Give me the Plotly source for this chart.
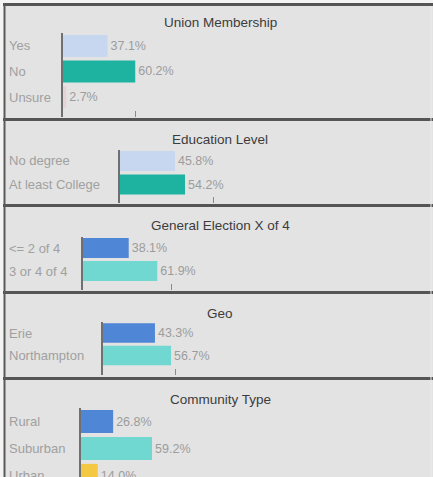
import plotly.graph_objects as go

# ---- data ----
union_cats = ["Yes", "No", "Unsure"]
union_vals = [37.1, 60.2, 2.7]
union_colors = ["#c7d7f0", "#1db3a0", "#e6d3d8"]

edu_cats = ["No degree", "At least College"]
edu_vals = [45.8, 54.2]
edu_colors = ["#c7d7f0", "#1db3a0"]

ge_cats = ["<= 2 of 4", "3 or 4 of 4"]
ge_vals = [38.1, 61.9]
ge_colors = ["#4f86d6", "#70d8d0"]

geo_cats = ["Erie", "Northampton"]
geo_vals = [43.3, 56.7]
geo_colors = ["#4f86d6", "#70d8d0"]

comm_cats = ["Rural", "Suburban", "Urban"]
comm_vals = [26.8, 59.2, 14.0]
comm_colors = ["#4f86d6", "#70d8d0", "#f5c843"]

titles = ["Union Membership", "Education Level", "General Election X of 4", "Geo", "Community Type"]

W, H = 433, 477
def px(p):
    return p / W
def py(p):
    return 1 - p / H

# layout config per panel: axis x px, top px, bottom px, first-row center px, row spacing px, title y px, tick value
panels = [
    (union_cats, union_vals, union_colors, 63, 33, 117, 46, 25.5, 23, 60),
    (edu_cats, edu_vals, edu_colors, 120, 150, 203, 161, 23.5, 139, 77.5),
    (ge_cats, ge_vals, ge_colors, 83, 237, 290, 248, 23, 225, 74),
    (geo_cats, geo_vals, geo_colors, 103, 322, 375, 333, 22.5, 313, 60),
    (comm_cats, comm_vals, comm_colors, 81, 408, 477, 421.5, 27, 399, None),
]

FONT = "Liberation Sans, Arial"
fig = go.Figure()
shapes = []
annotations = []
RIGHT = 428
PXPCT = 1.2

# panel backgrounds
panel_bounds = [(4, 119.5), (119.5, 205.5), (205.5, 292.5), (292.5, 378.5), (378.5, 480)]
for (t, b) in panel_bounds:
    shapes.append(dict(type="rect", xref="paper", yref="paper", x0=px(4), x1=px(440), y0=py(b), y1=py(t),
                       fillcolor="#e3e3e3", line=dict(width=0), layer="below"))
for yy in [4.5, 119.5, 205.5, 292.5, 378.5]:
    shapes.append(dict(type="line", xref="paper", yref="paper", x0=px(3), x1=px(440), y0=py(yy), y1=py(yy),
                       line=dict(color="#555555", width=3), layer="above"))
shapes.append(dict(type="line", xref="paper", yref="paper", x0=px(4.5), x1=px(4.5), y0=py(3), y1=py(480),
                   line=dict(color="#5a5a5a", width=2), layer="above"))
shapes.append(dict(type="line", xref="paper", yref="paper", x0=px(431), x1=px(431), y0=py(6), y1=py(480),
                   line=dict(color="#ececec", width=1), layer="above"))

layout = {}
for i, (cats, vals, cols, ax, top, bot, c0, s, ty, tick) in enumerate(panels, start=1):
    xa = "x" if i == 1 else f"x{i}"
    ya = "y" if i == 1 else f"y{i}"
    fig.add_trace(go.Bar(
        x=vals, y=cats, orientation="h", xaxis=xa, yaxis=ya,
        marker=dict(color=cols, line=dict(width=0)), width=0.86,
        text=[f"{v:.1f}%" for v in vals], textposition="outside",
        textfont=dict(color="#9c9c9c", size=12.5, family=FONT),
        cliponaxis=False, showlegend=False, hoverinfo="skip",
    ))
    xr = (RIGHT - ax) / PXPCT
    layout[f"xaxis{'' if i == 1 else i}"] = dict(
        domain=[px(ax), px(RIGHT)], range=[0, xr], anchor=ya,
        showgrid=False, zeroline=False, showline=False, showticklabels=False,
        ticks="inside" if tick is not None else "", tickvals=[tick] if tick is not None else [],
        ticklen=6, tickwidth=1, tickcolor="#8a8a8a", fixedrange=True,
    )
    layout[f"yaxis{'' if i == 1 else i}"] = dict(
        domain=[max(0, py(bot)), py(top)], anchor=xa,
        range=[(bot - c0) / s, (top - c0) / s], type="category", categoryorder="array",
        categoryarray=cats, showgrid=False, zeroline=False, showline=True,
        linecolor="#707070", linewidth=2, showticklabels=False, ticks="", fixedrange=True,
    )
    annotations.append(dict(text=titles[i - 1], xref="paper", yref="paper", x=px(220), y=py(ty),
                            xanchor="center", yanchor="middle", showarrow=False,
                            font=dict(size=13.5, color="#3c3c3c", family=FONT)))
    for c in cats:
        annotations.append(dict(text=c.replace("<", "&lt;"), xref="paper", yref=ya, x=px(7), y=c,
                                xanchor="left", yanchor="middle", showarrow=False,
                                font=dict(size=13, color="#a0a0a0", family=FONT)))

fig.update_layout(
    width=W, height=H, margin=dict(l=0, r=0, t=0, b=0),
    paper_bgcolor="#f4f4f4", plot_bgcolor="rgba(0,0,0,0)",
    shapes=shapes, annotations=annotations, bargap=0.15,
    **layout,
)
fig.write_html("out.html", config={"displayModeBar": False},
               post_script="document.body.style.margin='0px';document.body.style.padding='0px';")
